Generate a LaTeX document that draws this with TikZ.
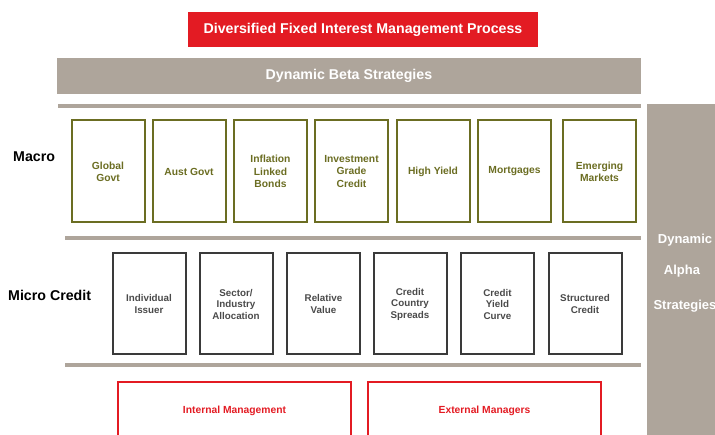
\documentclass[tikz,border=0pt]{standalone}
\usepackage{fontspec}
\setmainfont{Liberation Sans}
\definecolor{brandred}{HTML}{E31B23}
\definecolor{taupe}{HTML}{AEA59B}
\definecolor{olive}{HTML}{6B6D22}
\definecolor{charcoal}{HTML}{3A3A3A}
\definecolor{slate}{HTML}{4A4A4A}
\tikzset{
  banner/.style={fill=brandred, text=white, font=\bfseries\fontsize{14.2}{16}\selectfont, inner sep=0pt},
  band/.style={fill=taupe, text=white, font=\bfseries\fontsize{14.2}{16}\selectfont, inner sep=0pt},
  rowlabel/.style={font=\bfseries\fontsize{14.2}{16}\selectfont, anchor=west, inner sep=0pt},
  macrobox/.style={draw=olive, line width=2pt, minimum width=73pt, minimum height=102pt, inner sep=0pt,
    text=olive, align=center, font=\bfseries\fontsize{10.3}{12.2}\selectfont},
  microbox/.style={draw=charcoal, line width=2pt, minimum width=73pt, minimum height=101pt, inner sep=0pt,
    text=slate, align=center, font=\bfseries\fontsize{9.8}{11.5}\selectfont},
  mgrbox/.style={draw=brandred, line width=1.8pt},
  mgrtext/.style={text=brandred, font=\bfseries\fontsize{10.3}{12}\selectfont, inner sep=0pt},
  divider/.style={draw=taupe, line width=4pt},
  alphatext/.style={text=white, font=\bfseries\fontsize{13}{15}\selectfont, inner sep=0pt},
}
\begin{document}
\begin{tikzpicture}[x=1pt,y=-1pt]
\useasboundingbox (0,0) rectangle (715,435);
\clip (0,0) rectangle (715,435);

% header banners
\node[banner, minimum width=350pt, minimum height=35pt] (title) at (363,29.5) {Diversified Fixed Interest Management Process};
\node[band, minimum width=584pt, minimum height=36pt] (beta) at (349,76) {Dynamic Beta Strategies};

% vertical alpha bar on the right, running off the page edge
\fill[taupe] (647,104) rectangle (730,440);
\node[alphatext] (alpha1) at (685,240) {Dynamic};
\node[alphatext] (alpha2) at (682,271) {Alpha};
\node[alphatext] (alpha3) at (685,306) {Strategies};

% separators
\draw[divider] (58,106) -- (641,106);
\draw[divider] (65,238) -- (641,238);
\draw[divider] (65,365) -- (641,365);

% macro row
\node[rowlabel] (macro) at (13,157) {Macro};
\node[macrobox] (m1) at (108,171.5) {Global\\Govt};
\node[macrobox] (m2) at (189,171.5) {Aust Govt};
\node[macrobox] (m3) at (270.5,171.5) {Inflation\\Linked\\Bonds};
\node[macrobox] (m4) at (351.5,171.5) {Investment\\Grade\\Credit};
\node[macrobox] (m5) at (433,171.5) {High Yield};
\node[macrobox] (m6) at (514.5,171.5) {Mortgages};
\node[macrobox] (m7) at (599.5,171.5) {Emerging\\Markets};

% micro credit row
\node[rowlabel] (micro) at (8,295) {Micro Credit};
\node[microbox] (c1) at (149,304) {Individual\\Issuer};
\node[microbox] (c2) at (236,304) {Sector/\\Industry\\Allocation};
\node[microbox] (c3) at (323.5,304) {Relative\\Value};
\node[microbox] (c4) at (410,304) {Credit\\Country\\Spreads};
\node[microbox] (c5) at (497.5,304) {Credit\\Yield\\Curve};
\node[microbox] (c6) at (585,304) {Structured\\Credit};

% management boxes, open at the bottom edge
\draw[mgrbox] (118,382) rectangle (351,445);
\draw[mgrbox] (368,382) rectangle (601,445);
\node[mgrtext] (internal) at (234.5,411) {Internal Management};
\node[mgrtext] (external) at (484.5,411) {External Managers};
\end{tikzpicture}
\end{document}
